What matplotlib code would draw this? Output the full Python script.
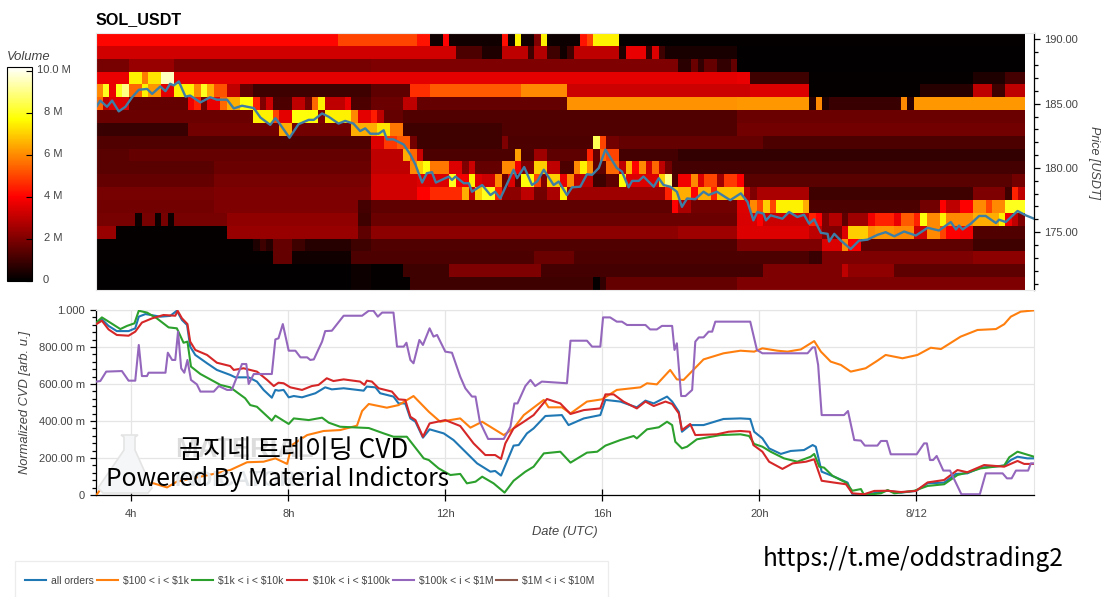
import matplotlib
matplotlib.use('Agg')
import matplotlib.pyplot as plt
import numpy as np
from matplotlib.colors import LinearSegmentedColormap
from matplotlib.patches import Polygon, Rectangle
from matplotlib.ticker import FixedLocator, MultipleLocator

plt.rcParams['font.family'] = ['Liberation Sans', 'DejaVu Sans']

W, H = 1104, 597
n_cols = 142

# price levels of the heatmap, top row first, one USD per row
price_levels = list(range(190, 170, -1))

# volume rows in millions, as (last column of the run, volume)
r190 = [(37, 4.1), (49, 5), (51, 4.3), (53, .3), (54, 4), (62, .3), (63, 4.2), (64, .2), (65, 7.5), (67, .3), (68, 2), (69, 7.5), (74, .2), (75, 4.3), (76, 5), (80, 7.5), (142, .1)]
r189 = [(55, 3.3), (59, 1.2), (62, .5), (66, 3), (67, 1), (69, 2.8), (71, 1), (72, .3), (73, 1), (80, 3), (81, .5), (84, 3.7), (85, .8), (86, 3.5), (87, 1), (98, .4), (142, .05)]
r188 = [(5, 1.9), (12, 2.4), (42, 1.9), (89, 2), (91, .7), (92, 1.7), (93, .8), (95, 1.6), (97, .8), (98, 1.6), (142, .05)]
r187 = [(5, 3.7), (7, 7.5), (8, 5.8), (10, 7.3), (12, 9.6), (98, 3.6), (100, 3.7), (109, 1), (134, .1), (139, .5), (142, 1.1)]
r186 = [(1, 6), (2, 8), (3, 3.7), (4, 8), (5, 9), (7, 5.5), (8, 7.5), (10, 6.2), (12, 3.6), (15, 7.5), (16, 6), (17, 8), (18, 6.5), (20, 5.2), (22, 3), (24, 1.6), (42, 1), (48, 1.5), (51, 4.7), (65, 5.3), (72, 6), (98, 3.2), (100, 3.2), (109, 3.5), (126, .1), (134, .6), (137, 3), (139, 1), (142, 3)]
r185 = [(1, 5.5), (2, 3), (5, 3.5), (14, 1.6), (15, 3.8), (16, 4.5), (17, 1.8), (19, 3.7), (20, 5.5), (22, 6.5), (24, 7.8), (25, 4.5), (26, 2), (27, 3.2), (30, 1.2), (32, 3), (33, 1.8), (34, 5.5), (35, 7.5), (38, 3), (39, 3.7), (42, 1.2), (47, 1.7), (49, 3), (72, 1.6), (98, 6.1), (109, 6.2), (110, .7), (111, 6), (112, .5), (123, .9), (124, 6), (125, .7), (142, 6.2)]
r184 = [(24, 1.7), (27, 7.5), (28, 5), (30, 3.6), (34, 7.8), (35, 2), (39, 7.5), (40, 6), (42, 3.6), (43, 4.4), (44, 3), (47, 1.6), (98, 1.3), (142, 1.7)]
r183 = [(14, .9), (28, 1.8), (30, 6.5), (39, 1.8), (43, 6.5), (45, 7.3), (47, 5.7), (62, 1), (98, 1.3), (142, 1.8)]
r182 = [(42, 1.3), (44, 3.5), (46, 4.8), (48, 5.3), (49, 1.8), (62, 1), (63, 2), (76, 1.2), (77, 8.5), (78, 5), (80, 1.8), (102, 1.6), (142, 1.2)]
r181 = [(5, 1.4), (42, 1.6), (47, 3), (48, 6.5), (49, 5.5), (50, 3.2), (64, 1.2), (65, 6.3), (67, 1.2), (69, 2.5), (75, 1.5), (76, 4.5), (77, 1.6), (78, 5.5), (80, 5), (89, 1.1), (142, .8)]
r180 = [(18, 1.4), (42, 1.7), (48, 3), (49, 6), (50, 7), (51, 7.8), (54, 5.7), (56, 3.5), (57, 2), (58, 3.2), (62, 1.6), (64, 6), (65, 3.8), (67, 2), (69, 7), (71, 3), (73, 1.2), (74, 6), (75, 7.5), (76, 6), (78, 1.5), (80, 5.5), (81, 3), (82, 6.5), (83, 4), (84, 6), (85, 3.3), (86, 5.5), (87, 3), (88, 1.8), (142, 1.1)]
r179 = [(18, 1.6), (42, 1.9), (49, 3.3), (54, 3.5), (55, 8), (57, 3.8), (58, 7.5), (59, 3.5), (61, 3.2), (62, 6), (63, 1.7), (64, 3.5), (65, 1.5), (67, 7.8), (68, 5), (69, 2), (71, 7), (72, 3.7), (73, 6), (76, 3), (78, 1), (80, 1.5), (81, 7.8), (86, 3.5), (87, 7), (88, 9), (89, 1.2), (91, 3.8), (92, 6), (93, 3.5), (95, 5), (96, 2.5), (98, 4.8), (99, 4), (140, 1.4), (142, 1.8)]
r178 = [(18, 1.9), (42, 2), (49, 3.3), (51, 4), (56, 4.6), (57, 6.5), (58, 3), (59, 7), (61, 8), (62, 4.5), (65, 2.2), (67, 3), (69, 1.8), (71, 2.7), (72, 7.5), (87, 2.5), (88, 4.5), (89, 7), (91, 6.5), (92, 4), (94, 6.5), (95, 4.5), (99, 6.8), (100, 3), (101, 2), (109, 2.7), (134, 1), (139, 2), (140, 1), (141, 4.5), (142, 3)]
r177 = [(18, 1.8), (40, 2), (42, 1.1), (88, 1.5), (89, 4), (91, 2.7), (98, 1.8), (100, 3.5), (101, 6), (102, 5), (103, 7), (104, 5), (108, 7.5), (109, 6.5), (126, 1.2), (129, 1.8), (130, 4), (132, 3), (134, 4), (136, 6), (137, 5), (139, 6), (142, 8)]
r176 = [(6, 1.9), (7, .2), (9, 1.9), (10, .2), (11, 1.9), (12, .2), (20, 1.9), (40, 2.3), (42, 1), (98, 1.7), (101, 3.4), (102, 4), (109, 3.2), (110, 4.5), (111, 4), (112, 2), (114, 2.8), (115, 1.5), (118, 2.5), (119, 3.8), (122, 4.5), (123, 3.7), (125, 5.3), (126, 4.5), (127, 7.8), (129, 6), (130, 7.5), (134, 6), (138, 6.5), (139, 7.5), (140, 3.8), (141, 3), (142, 2)]
r175 = [(3, 2.4), (20, .1), (40, 2.4), (42, 1.5), (89, 2.2), (98, 2.5), (109, 3.5), (111, 3), (114, 2), (115, 3.5), (118, 7), (119, 6), (122, 6.2), (125, 6), (127, 3.3), (129, 6), (130, 5), (132, 4), (134, 3.8), (142, 1.3)]
r174 = [(24, .1), (25, .5), (26, 1), (27, .6), (30, 1.6), (32, 1), (39, .6), (42, 1), (98, 1.3), (111, 2), (114, 3.5), (115, 6), (117, 4), (134, 1.5), (142, 1)]
r173 = [(27, .1), (30, 1.6), (39, .3), (42, 1.2), (67, 1.2), (73, 1.7), (98, 1.2), (109, 1.2), (111, .9), (134, 2), (142, 2.2)]
r172 = [(39, .05), (42, .2), (47, .1), (54, 1), (68, 2), (102, 1.1), (114, 2), (115, 3), (122, 2.3), (142, 1.5)]
r171 = [(39, .05), (42, .2), (48, .1), (76, 1), (77, .1), (78, .8), (98, 1.6), (142, 2)]
volume_runs = [r190, r189, r188, r187, r186, r185, r184, r183, r182, r181,
               r180, r179, r178, r177, r176, r175, r174, r173, r172, r171]

price_t = [3.11, 3.21, 3.38, 3.51, 3.68, 3.85, 4.02, 4.19, 4.40, 4.53, 4.74, 4.87, 4.99, 5.08, 5.21, 5.38, 5.50, 5.76, 6.01, 6.18, 6.44, 6.61, 6.82, 7.12, 7.29, 7.54, 7.67, 7.80, 8.03, 8.26, 8.52, 8.65, 8.86, 9.03, 9.28, 9.45, 9.66, 9.83, 9.96, 10.09, 10.30, 10.43, 10.51, 10.68, 10.94, 11.11, 11.24, 11.41, 11.53, 11.66, 11.76, 12.09, 12.17, 12.26, 12.47, 12.60, 12.68, 12.94, 13.15, 13.27, 13.40, 13.74, 13.83, 14.01, 14.21, 14.34, 14.51, 14.76, 14.89, 15.10, 15.23, 15.44, 15.61, 15.74, 15.91, 16.08, 16.37, 16.50, 16.67, 16.76, 16.93, 17.05, 17.31, 17.44, 17.56, 17.73, 17.90, 18.03, 18.16, 18.37, 18.58, 18.71, 18.92, 19.26, 19.53, 19.70, 19.85, 19.95, 20.11, 20.17, 20.29, 20.59, 20.76, 20.97, 21.14, 21.27, 21.40, 21.57, 21.74, 21.78, 21.91, 22.08, 22.33, 22.54, 22.76, 23.01, 23.22, 23.44, 23.69, 23.99, 24.29, 24.58, 24.88, 25.01, 25.09, 25.18, 25.39, 25.60, 25.77, 26.03, 26.11, 26.28, 26.58, 26.79, 27.00]
price_usdt = [184.76, 185.24, 184.76, 185.24, 184.40, 184.76, 185.50, 186.08, 186.15, 185.76, 186.34, 185.97, 186.55, 186.42, 186.73, 185.55, 185.63, 185.10, 185.50, 185.31, 185.31, 184.63, 184.84, 184.66, 183.92, 183.35, 183.87, 183.35, 182.35, 183.40, 183.74, 183.74, 184.24, 183.98, 183.45, 183.66, 183.45, 182.87, 183.08, 182.66, 182.66, 182.93, 182.22, 182.22, 181.82, 181.04, 180.25, 178.86, 179.59, 179.67, 178.86, 179.33, 179.07, 179.33, 178.81, 178.81, 178.15, 178.67, 177.89, 178.15, 177.62, 179.86, 179.20, 180.07, 178.67, 178.94, 179.86, 178.67, 178.94, 177.89, 178.49, 178.54, 179.51, 179.46, 179.99, 181.43, 179.99, 179.72, 178.49, 178.99, 178.99, 179.33, 178.54, 179.20, 178.67, 178.54, 178.15, 176.97, 177.62, 177.57, 178.15, 177.89, 178.15, 177.49, 178.02, 177.36, 175.92, 176.57, 176.44, 175.92, 176.31, 176.05, 176.57, 176.18, 176.36, 175.66, 176.00, 174.95, 174.87, 174.27, 174.87, 174.34, 173.69, 174.34, 174.42, 174.79, 175.00, 174.68, 175.05, 174.74, 175.34, 175.13, 175.79, 175.21, 175.52, 175.21, 175.66, 176.26, 176.26, 175.71, 175.97, 175.79, 176.65, 176.31, 176.05]

all_t = [3.11, 3.25, 3.42, 3.63, 3.93, 4.10, 4.19, 4.36, 4.74, 4.99, 5.16, 5.29, 5.42, 5.50, 5.63, 5.93, 6.18, 6.52, 6.65, 6.99, 7.20, 7.37, 7.58, 7.67, 7.75, 7.88, 8.01, 8.14, 8.35, 8.69, 8.94, 9.11, 9.41, 9.92, 10.00, 10.22, 10.34, 10.68, 10.81, 10.98, 11.11, 11.24, 11.43, 11.60, 11.96, 12.21, 12.51, 12.81, 13.15, 13.27, 13.42, 13.74, 13.87, 14.08, 14.25, 14.55, 14.97, 15.14, 15.53, 15.95, 16.08, 16.46, 16.71, 16.88, 17.10, 17.31, 17.65, 17.78, 17.95, 18.03, 18.24, 18.58, 19.09, 19.52, 19.77, 19.87, 20.08, 20.25, 20.55, 20.80, 21.14, 21.36, 21.44, 21.59, 21.91, 22.25, 22.37, 22.76, 23.27, 23.61, 23.99, 24.29, 24.71, 25.01, 25.30, 25.64, 26.24, 26.41, 26.58, 26.83, 27.00]
all_cvd = [.928, .950, .914, .886, .886, .901, .964, .978, .964, .968, .996, .946, .919, .802, .757, .712, .676, .649, .636, .636, .613, .568, .526, .568, .564, .568, .528, .535, .528, .550, .582, .571, .577, .564, .586, .582, .550, .532, .495, .495, .414, .396, .310, .355, .333, .297, .234, .171, .126, .130, .105, .267, .270, .333, .360, .427, .432, .378, .414, .432, .514, .505, .486, .474, .510, .495, .532, .505, .450, .342, .378, .378, .411, .414, .411, .342, .306, .252, .222, .238, .243, .270, .261, .126, .099, .067, .005, .004, .023, .013, .022, .063, .067, .114, .117, .148, .159, .189, .207, .198, .198]

small_t = [3.11, 3.25, 3.55, 3.72, 4.02, 4.19, 4.57, 4.91, 5.16, 5.67, 6.10, 6.52, 6.95, 7.37, 7.67, 7.97, 8.09, 8.48, 8.90, 9.32, 9.75, 9.88, 10.05, 10.51, 10.81, 11.19, 11.58, 11.87, 12.38, 12.64, 12.94, 13.49, 13.74, 14.00, 14.51, 14.63, 14.97, 15.19, 15.61, 15.99, 16.37, 16.97, 17.14, 17.39, 17.73, 17.90, 18.07, 18.58, 19.09, 19.52, 19.87, 20.08, 20.46, 20.72, 21.06, 21.40, 21.57, 21.82, 22.08, 22.33, 22.71, 23.01, 23.22, 23.65, 24.03, 24.37, 24.63, 25.13, 25.56, 26.03, 26.24, 26.41, 26.66, 27.00]
small_cvd = [0, .041, .036, .023, .054, .067, .063, .041, .072, .095, .114, .135, .177, .180, .198, .168, .270, .324, .346, .351, .375, .454, .492, .472, .486, .535, .450, .396, .414, .364, .396, .324, .360, .432, .514, .474, .474, .441, .505, .517, .568, .582, .604, .598, .676, .625, .622, .733, .766, .780, .775, .793, .780, .775, .787, .832, .775, .721, .703, .667, .685, .726, .757, .739, .757, .796, .789, .856, .892, .897, .923, .964, .991, .998]

mid_t = [3.11, 3.25, 3.46, 3.72, 3.89, 4.08, 4.19, 4.40, 4.65, 4.95, 5.16, 5.33, 5.43, 5.52, 5.76, 6.27, 6.52, 6.90, 7.03, 7.20, 7.58, 7.67, 8.01, 8.14, 8.52, 8.86, 9.03, 9.32, 10.05, 10.43, 10.68, 11.02, 11.45, 11.58, 11.83, 12.13, 12.38, 12.55, 12.77, 12.94, 13.23, 13.51, 13.74, 14.04, 14.25, 14.51, 14.93, 15.19, 15.61, 15.87, 16.08, 16.46, 16.80, 16.88, 17.14, 17.44, 17.65, 17.78, 17.86, 18.03, 18.16, 18.41, 19.01, 19.52, 19.74, 19.87, 20.08, 20.29, 20.63, 20.97, 21.31, 21.40, 21.53, 21.65, 21.87, 22.21, 22.37, 22.59, 22.67, 23.10, 23.27, 23.44, 23.95, 24.29, 24.71, 25.05, 25.30, 25.64, 26.24, 26.37, 26.58, 27.00]
mid_cvd = [.932, .960, .932, .897, .914, .928, .996, .986, .955, .906, .901, .823, .829, .694, .654, .595, .582, .523, .486, .477, .402, .429, .384, .414, .405, .418, .391, .369, .362, .333, .315, .315, .198, .189, .144, .108, .114, .063, .072, .099, .063, .013, .077, .126, .153, .225, .234, .175, .229, .234, .267, .297, .319, .306, .355, .366, .396, .378, .288, .252, .261, .301, .324, .328, .319, .276, .261, .234, .198, .180, .207, .222, .153, .148, .103, .067, .023, .032, 0, .009, .027, .009, .023, .049, .058, .108, .121, .144, .159, .204, .234, .207]

large_t = [3.11, 3.25, 3.42, 3.63, 3.93, 4.10, 4.27, 4.53, 4.82, 5.12, 5.18, 5.29, 5.43, 5.50, 5.63, 5.93, 6.18, 6.52, 6.61, 6.86, 7.20, 7.46, 7.63, 7.75, 7.88, 8.05, 8.35, 8.60, 8.77, 8.98, 9.15, 9.41, 9.83, 9.94, 10.00, 10.13, 10.30, 10.64, 10.81, 10.98, 11.11, 11.24, 11.43, 11.60, 12.00, 12.38, 12.72, 13.02, 13.27, 13.42, 13.53, 13.74, 14.00, 14.25, 14.59, 14.93, 15.19, 15.53, 15.95, 16.08, 16.29, 16.54, 16.88, 17.10, 17.31, 17.61, 17.78, 17.95, 18.03, 18.24, 18.37, 18.92, 19.22, 19.52, 19.76, 19.85, 20.08, 20.25, 20.59, 20.85, 21.19, 21.40, 21.59, 21.91, 22.21, 22.37, 22.67, 22.93, 23.27, 23.61, 23.99, 24.29, 24.71, 25.05, 25.30, 25.73, 26.24, 26.58, 26.75, 27.00]
large_cvd = [.924, .942, .895, .865, .861, .883, .932, .955, .973, .969, .996, .955, .924, .829, .784, .757, .715, .697, .676, .685, .667, .622, .589, .607, .604, .582, .568, .589, .595, .631, .616, .625, .613, .595, .618, .613, .577, .559, .517, .514, .423, .405, .315, .387, .405, .373, .279, .216, .216, .195, .279, .360, .396, .432, .519, .495, .438, .459, .468, .544, .544, .505, .468, .505, .481, .505, .492, .441, .351, .384, .324, .328, .342, .346, .342, .270, .234, .180, .141, .171, .180, .193, .077, .067, .058, .009, .004, .022, .023, .016, .022, .068, .081, .135, .123, .162, .153, .184, .168, .168]

huge_t = [3.11, 3.21, 3.36, 3.76, 3.93, 4.10, 4.19, 4.27, 4.40, 4.44, 4.87, 4.93, 5.04, 5.12, 5.19, 5.27, 5.35, 5.43, 5.52, 5.67, 5.76, 6.10, 6.23, 6.44, 6.56, 6.82, 6.93, 6.99, 7.12, 7.58, 7.67, 7.75, 7.86, 8.01, 8.18, 8.31, 8.48, 8.56, 8.65, 8.86, 8.94, 9.11, 9.41, 9.88, 10.05, 10.17, 10.28, 10.39, 10.68, 10.77, 10.94, 11.01, 11.11, 11.19, 11.34, 11.43, 11.60, 11.70, 11.79, 12.00, 12.17, 12.38, 12.51, 12.68, 12.77, 12.88, 13.09, 13.49, 13.66, 13.76, 13.84, 14.04, 14.17, 14.29, 14.46, 15.10, 15.19, 15.61, 15.74, 15.95, 16.02, 16.20, 16.37, 16.50, 16.63, 17.10, 17.22, 17.39, 17.52, 17.78, 17.84, 17.90, 18.01, 18.12, 18.29, 18.37, 18.46, 18.58, 18.71, 18.80, 18.88, 19.77, 19.94, 20.08, 21.23, 21.36, 21.42, 21.50, 21.59, 22.16, 22.26, 22.42, 22.59, 22.69, 23.01, 23.10, 23.25, 23.35, 24.01, 24.20, 24.27, 24.35, 24.43, 24.52, 24.69, 24.86, 25.15, 25.62, 25.77, 26.20, 26.31, 26.43, 26.54, 26.85, 26.92, 27.00]
huge_cvd = [.613, .616, .667, .670, .618, .618, .811, .643, .643, .661, .661, .769, .730, .730, .883, .685, .661, .730, .622, .598, .559, .559, .589, .568, .568, .708, .708, .600, .654, .654, .841, .847, .924, .780, .780, .744, .744, .730, .733, .829, .886, .888, .969, .969, .996, .996, .964, .986, .986, .802, .802, .823, .730, .712, .838, .811, .901, .856, .865, .775, .769, .640, .577, .532, .532, .396, .303, .303, .369, .495, .495, .589, .622, .589, .613, .604, .834, .834, .802, .802, .960, .960, .937, .937, .919, .919, .895, .895, .914, .914, .784, .820, .535, .535, .568, .829, .852, .852, .883, .883, .937, .937, .784, .766, .766, .798, .798, .703, .432, .432, .454, .297, .294, .267, .267, .292, .292, .220, .220, .279, .279, .189, .189, .211, .132, .132, .004, .004, .117, .117, .090, .090, .132, .132, .171, .171]

series_names = ['all orders', r'\$100 < i < \$1k', r'\$1k < i < \$10k', r'\$10k < i < \$100k',
                r'\$100k < i < \$1M', r'\$1M < i < \$10M']
series_colors = ['#1f77b4', '#ff7f0e', '#2ca02c', '#d62728', '#9467bd', '#8c564b']

hour_ticks = [4, 8, 12, 16, 20, 24]
hour_labels = ['4h', '8h', '12h', '16h', '20h', '8/12']
volume_ticks = [0, 2, 4, 6, 8, 10]
volume_labels = ['0', '2 M', '4 M', '6 M', '8 M', '10.0 M']
price_ticks = [175, 180, 185, 190]
cvd_ticks = [0, .2, .4, .6, .8, 1]
cvd_labels = ['0', '200.00 m', '400.00 m', '600.00 m', '800.00 m', '1.000']


def px_axes(left, top, right, bottom):
    return fig.add_axes([left / W, 1 - bottom / H, (right - left) / W, (bottom - top) / H])


def fig_xy(x, y):
    return x / W, 1 - y / H


def expand(runs):
    row = []
    for end, value in runs:
        row += [value] * (end - len(row))
    return row


fig = plt.figure(figsize=(W / 100, H / 100), dpi=100)
grey = '#444444'

# black to red to yellow to white, red reached near 4 M and yellow near 7.7 M
v_max = 10.2
hot_bar = LinearSegmentedColormap.from_list('hot_bar', [(0, '#000000'), (4 / v_max, '#ff0000'),
                                                        (7.7 / v_max, '#ffff00'), (1, '#ffffff')])

# heatmap panel
ax = px_axes(96, 33, 1034, 290)
volume = np.array([expand(r) for r in volume_runs])
t_start = 3.1
t_end = t_start + n_cols / 6
im = ax.imshow(volume, cmap=hot_bar, vmin=0, vmax=v_max, aspect='auto', interpolation='nearest',
               extent=(t_start, t_end, price_levels[-1] - .5, price_levels[0] + .5))
ax.plot(price_t, price_usdt, color='#3d7ea6', lw=1.7, solid_joinstyle='round')
ax.set_xlim(3.1, 27)
ax.set_ylim(170.5, 190.5)
ax.set_xticks([])
for side in ['top', 'bottom', 'left']:
    ax.spines[side].set_color('#e8e8e8')
ax.yaxis.tick_right()
ax.set_yticks(price_ticks)
ax.set_yticklabels([f'{p:.2f}' for p in price_ticks])
ax.yaxis.set_minor_locator(MultipleLocator(1))
ax.tick_params(axis='y', which='major', length=4.5, width=.9, labelsize=8, labelcolor=grey, pad=3)
ax.tick_params(axis='y', which='minor', length=3, width=.9)
ax.spines['right'].set_linewidth(.9)
fig.text(*fig_xy(1094, 163), 'Price [USDT]', rotation=-90, style='italic', fontsize=9,
         color=grey, ha='center', va='center')
fig.text(*fig_xy(96, 19.5), 'SOL_USDT', fontweight='bold', fontsize=11.6, color='black', va='center')

# colour bar
cax = px_axes(6.5, 66.5, 32, 281)
cb = fig.colorbar(im, cax=cax)
cb.outline.set_linewidth(.8)
cax.set_ylim(0, v_max)
cax.set_yticks(volume_ticks)
cax.set_yticklabels([])
cax.yaxis.set_minor_locator(FixedLocator([]))
cax.tick_params(axis='y', length=4, width=.8, direction='in', right=True)
for value, label in zip(volume_ticks, volume_labels):
    x = 46 if value == 0 else 53.5
    ypos = 280 - value * 21
    fig.text(*fig_xy(x, ypos), label, fontsize=8, color=grey, ha='center', va='center')
fig.text(*fig_xy(7, 57.5), 'Volume', style='italic', fontsize=9.4, color=grey, va='center')

# watermark behind the CVD lines
bx = px_axes(96, 310, 1034, 495)
bx.patch.set_alpha(0)
flask = [(121, 435), (138, 435), (135, 437), (135, 450), (152, 488), (148, 493), (103, 493), (98, 488), (124, 450), (124, 437)]
fig.add_artist(Polygon([fig_xy(*p) for p in flask], closed=True, transform=fig.transFigure,
                       facecolor='#f4f6f7', edgecolor='#e4e4e4', lw=1.2, zorder=.5))
fig.text(*fig_xy(175, 450), 'MATERIAL', fontweight='bold', fontsize=19.5, color='#dcdcdc', va='center', zorder=.5)
fig.text(*fig_xy(175, 480), 'INDICATORS', fontweight='bold', fontsize=16, color='#e2e6e8', va='center', zorder=.5)

# CVD panel
curves = [(all_t, all_cvd), (small_t, small_cvd), (mid_t, mid_cvd), (large_t, large_cvd), (huge_t, huge_cvd), ([], [])]
order = [4, 1, 2, 0, 3, 5]
handles = {}
for i in order:
    t, v = curves[i]
    line, = bx.plot(t, v, color=series_colors[i], lw=1.5, label=series_names[i], zorder=3 + i)
    handles[i] = line
bx.set_xlim(3.1, 27)
bx.set_ylim(0, 1)
bx.grid(True, color='#e5e5e5', lw=.9)
bx.set_axisbelow(True)
for side in ['top', 'right']:
    bx.spines[side].set_color('#e5e5e5')
bx.spines['left'].set_linewidth(.9)
bx.spines['bottom'].set_linewidth(.9)
bx.set_xticks(hour_ticks)
bx.set_xticklabels(hour_labels)
bx.set_yticks(cvd_ticks)
bx.set_yticklabels(cvd_labels)
bx.yaxis.set_minor_locator(MultipleLocator(.04))
bx.tick_params(axis='both', which='major', length=4.5, width=.9, labelsize=8, labelcolor=grey)
bx.tick_params(axis='x', direction='inout', length=8, pad=6)
bx.tick_params(axis='y', which='minor', length=3, width=.9)
bx.set_xlabel('Date (UTC)', style='italic', fontsize=9.3, color=grey, labelpad=5)
fig.text(*fig_xy(25, 402), 'Normalized CVD [arb. u.]', rotation=90, style='italic', fontsize=9.3,
         color=grey, ha='center', va='center')

# legend frame runs off the bottom of the picture
fig.add_artist(Rectangle(fig_xy(15, 605), 593 / W, 44 / H, transform=fig.transFigure,
                         facecolor='white', edgecolor='#ececec', lw=.9))
fig.legend([handles[i] for i in range(6)], series_names, ncol=6, frameon=False, fontsize=7.5,
           labelcolor=grey, loc='center left', bbox_to_anchor=fig_xy(25, 581), handlelength=2,
           handletextpad=.5, columnspacing=.3, borderpad=0, borderaxespad=0)

# text pasted over the chart
kr_font = ['Noto Sans CJK KR', 'DejaVu Sans']
fig.text(*fig_xy(294, 450), '곰지네 트레이딩 CVD', family=kr_font, fontsize=18.8, fontweight='medium',
         color='black', ha='center', va='center', zorder=20)
fig.text(*fig_xy(277, 479), 'Powered By Material Indictors', family=kr_font, fontsize=17.7, fontweight='medium',
         color='black', ha='center', va='center', zorder=20)
fig.text(*fig_xy(913, 559), 'https://t.me/oddstrading2', family=kr_font, fontsize=17.6, fontweight='medium',
         color='black', ha='center', va='center', zorder=20)

fig.savefig('out.png', dpi=100)
